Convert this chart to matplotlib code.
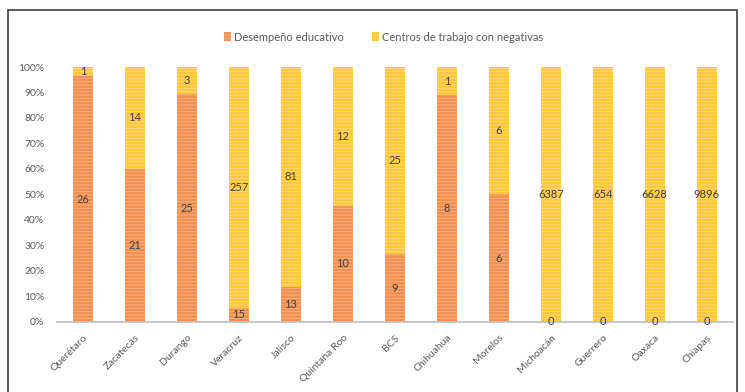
import matplotlib
matplotlib.use("Agg")
import matplotlib.pyplot as plt
from matplotlib.patches import Rectangle
from matplotlib.ticker import PercentFormatter
import numpy as np

plt.rcParams['font.family'] = ['Lato', 'DejaVu Sans']
plt.rcParams['hatch.linewidth'] = 0.6

# estados y número de centros de trabajo por causa
estados = ['Querétaro', 'Zacatecas', 'Durango', 'Veracruz', 'Jalisco', 'Quintana Roo',
           'BCS', 'Chihuahua', 'Morelos', 'Michoacán', 'Guerrero', 'Oaxaca', 'Chiapas']
desempeno = [26, 21, 25, 15, 13, 10, 9, 8, 6, 0, 0, 0, 0]
negativas = [1, 14, 3, 257, 81, 12, 25, 1, 6, 6387, 654, 6628, 9896]

c_naranja = '#f2914f'
c_amarillo = '#ffc73a'

d = np.array(desempeno, dtype=float)
n = np.array(negativas, dtype=float)
tot = d + n
pd_ = d / tot * 100
pn_ = n / tot * 100
x = np.arange(len(estados))

fig = plt.figure(figsize=(7.45, 3.92), dpi=100)
ax = fig.add_axes([0.0765, 0.179, 0.907, 0.65])

ax.bar(x, pd_, width=0.38, color=c_naranja, edgecolor='#f7b690', linewidth=0,
       hatch='-----', label='Desempeño educativo')
ax.bar(x, pn_, width=0.38, bottom=pd_, color=c_amarillo, edgecolor='#ffdc85', linewidth=0,
       hatch='-----', label='Centros de trabajo con negativas')

# etiquetas con el número de centros en cada segmento
for i in range(len(estados)):
    ax.text(x[i], pd_[i] / 2, str(desempeno[i]), ha='center', va='center',
            fontsize=8, color='#404040')
    ax.text(x[i], pd_[i] + pn_[i] / 2, str(negativas[i]), ha='center', va='center',
            fontsize=8, color='#404040')

ax.set_xlim(-0.5, len(estados) - 0.5)
ax.set_ylim(0, 100)
ax.set_yticks(np.arange(0, 101, 10))
ax.yaxis.set_major_formatter(PercentFormatter(decimals=0))
ax.set_xticks(x)
ax.set_xticklabels(estados, rotation=45, ha='right', rotation_mode='anchor')
ax.tick_params(axis='both', length=0, labelsize=7.5, labelcolor='#595959')
ax.tick_params(axis='x', pad=8)
ax.tick_params(axis='y', pad=9)
for s in ['top', 'right', 'left']:
    ax.spines[s].set_visible(False)
ax.spines['bottom'].set_color('#bfbfbf')
ax.spines['bottom'].set_linewidth(1.2)

fig.legend(loc='upper center', bbox_to_anchor=(0.515, 0.945), ncol=2, frameon=False,
           fontsize=8, handlelength=0.6, handleheight=0.9, columnspacing=2.5,
           labelcolor='#595959', handletextpad=0.3)

# marco del área del gráfico
fig.patches.append(Rectangle((8 / 745, -0.05), 729 / 745, 1.05 - 10 / 392,
                             transform=fig.transFigure, fill=False,
                             edgecolor='#404040', linewidth=1.2))

fig.savefig('out.png', dpi=100)
